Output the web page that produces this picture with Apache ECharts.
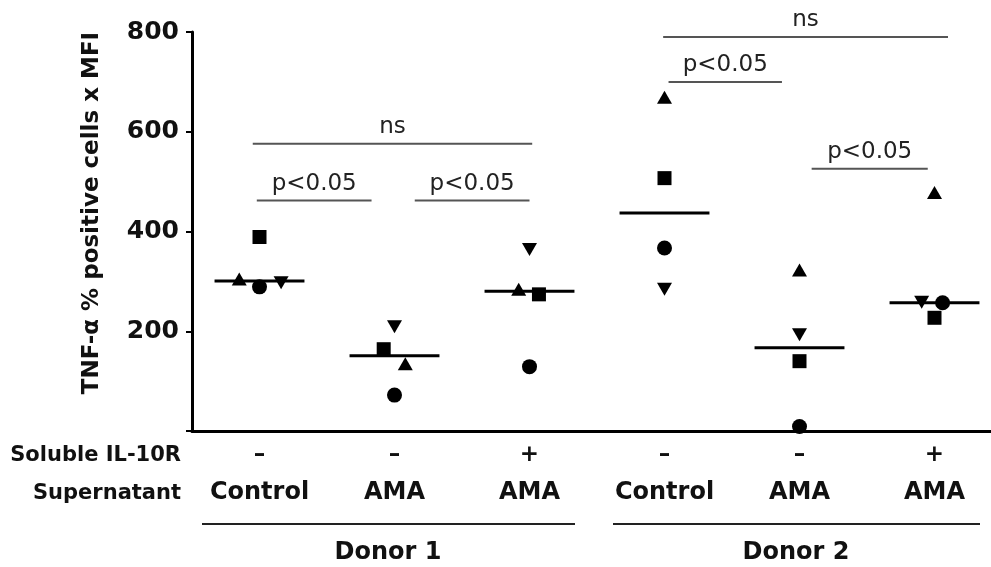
<!DOCTYPE html>
<html>
<head>
<meta charset="utf-8">
<script src="https://cdn.jsdelivr.net/npm/echarts@6/dist/echarts.min.js"></script>
<style>
  html, body { margin: 0; padding: 0; background: #fff; }
  #chart { width: 991px; height: 567px; }
</style>
</head>
<body>
<div id="chart"></div>
<script>
// groups along the x axis
const categories = ['Control', 'AMA', 'AMA', 'Control', 'AMA', 'AMA'];
const il10r = ['–', '–', '+', '–', '–', '+'];

// each symbol is one sample, x = group index (slightly spread as in the figure)
const squareX = [0, 0.92, 2.07, 3, 4, 5];
const squareVals = [389, 164, 274, 507, 140, 227];
const triangleX = [-0.15, 1.08, 1.92, 3, 4, 5];
const triangleVals = [305, 135, 284, 669, 323, 478];
const circleX = [0, 1, 2, 3, 4, 5.06];
const circleVals = [289, 72, 129, 367, 9, 257];
const invTriX = [0.16, 1, 2, 3, 4, 4.905];
const invTriVals = [297, 209, 364, 284, 193, 258];
// horizontal mean line per group
const meanVals = [301, 151, 280, 437, 167, 257];

// significance bars
const bracketFrom = [-0.02, 1.15, -0.05, 3.03, 4.09, 2.99];
const bracketTo = [0.83, 2.0, 2.02, 3.87, 4.95, 5.1];
const bracketLevel = [462, 462, 576, 700, 526, 790];
const bracketLabels = ['p<0.05', 'p<0.05', 'ns', 'p<0.05', 'p<0.05', 'ns'];

const FONT = 'DejaVu Sans';
const chart = echarts.init(document.getElementById('chart'));

const pointSeries = (name, xs, vals, symbol, size, rotate) => ({
    name: name,
    type: 'scatter',
    xAxisIndex: 1,
    symbol: symbol,
    symbolSize: size,
    symbolRotate: rotate || 0,
    itemStyle: { color: '#000', opacity: 1 },
    data: xs.map((x, i) => [x, vals[i]]),
    z: 5
});

const option = {
    animation: false,
    grid: { left: 192, right: -11, top: 32, bottom: 136, outerBoundsMode: 'none' },
    xAxis: [
        {
            type: 'category',
            data: categories,
            boundaryGap: true,
            axisLine: { onZero: false, lineStyle: { color: '#000', width: 3 } },
            axisTick: { alignWithLabel: true, length: 6, lineStyle: { color: '#000', width: 2 } },
            axisLabel: {
                interval: 0,
                margin: 5,
                color: '#111',
                formatter: (value, index) => '{s|' + il10r[index] + '}\n{n|' + value + '}',
                rich: {
                    s: { fontFamily: FONT, fontWeight: 'bold', fontSize: 23, lineHeight: 38 },
                    n: { fontFamily: FONT, fontWeight: 'bold', fontSize: 24, lineHeight: 38 }
                }
            }
        },
        { type: 'value', min: -0.5, max: 5.5, show: false }
    ],
    yAxis: {
        type: 'value',
        min: 0,
        max: 800,
        interval: 200,
        splitLine: { show: false },
        axisLine: { show: true, onZero: false, lineStyle: { color: '#000', width: 3 } },
        axisTick: { show: true, length: 6, lineStyle: { color: '#000', width: 2 } },
        axisLabel: {
            margin: 13,
            color: '#111',
            fontFamily: FONT,
            fontWeight: 'bold',
            fontSize: 25,
            formatter: v => (v === 0 ? '' : String(v))
        }
    },
    graphic: [
        {
            type: 'text', x: 92, y: 213, rotation: Math.PI / 2,
            style: {
                text: 'TNF-α % positive cells x MFI', fill: '#111',
                font: 'bold 23px ' + FONT, align: 'center', verticalAlign: 'middle'
            }
        },
        {
            type: 'text', x: 181, y: 456,
            style: { text: 'Soluble IL-10R', fill: '#111', font: 'bold 21px ' + FONT, align: 'right', verticalAlign: 'middle' }
        },
        {
            type: 'text', x: 181, y: 494,
            style: { text: 'Supernatant', fill: '#111', font: 'bold 21px ' + FONT, align: 'right', verticalAlign: 'middle' }
        },
        { type: 'line', shape: { x1: 202, y1: 524, x2: 575, y2: 524 }, style: { stroke: '#222', lineWidth: 2 } },
        { type: 'line', shape: { x1: 613, y1: 524, x2: 980, y2: 524 }, style: { stroke: '#222', lineWidth: 2 } },
        {
            type: 'text', x: 388, y: 553,
            style: { text: 'Donor 1', fill: '#111', font: 'bold 24px ' + FONT, align: 'center', verticalAlign: 'middle' }
        },
        {
            type: 'text', x: 796, y: 553,
            style: { text: 'Donor 2', fill: '#111', font: 'bold 24px ' + FONT, align: 'center', verticalAlign: 'middle' }
        }
    ],
    series: [
        pointSeries('square', squareX, squareVals, 'rect', 14),
        pointSeries('triangle', triangleX, triangleVals, 'triangle', [15, 13]),
        pointSeries('circle', circleX, circleVals, 'circle', 15),
        pointSeries('inverted triangle', invTriX, invTriVals, 'triangle', [15, 13], 180),
        {
            name: 'mean',
            type: 'custom',
            xAxisIndex: 1,
            data: meanVals.map((m, i) => [i, m]),
            renderItem: (params, api) => {
                const a = api.coord([api.value(0) - 0.333, api.value(1)]);
                const b = api.coord([api.value(0) + 0.333, api.value(1)]);
                return {
                    type: 'line',
                    shape: { x1: a[0], y1: a[1], x2: b[0], y2: b[1] },
                    style: { stroke: '#000', lineWidth: 3 }
                };
            },
            z: 4
        },
        {
            name: 'significance',
            type: 'custom',
            xAxisIndex: 1,
            clip: false,
            data: bracketFrom.map((f, k) => [f, bracketTo[k], bracketLevel[k]]),
            renderItem: (params, api) => {
                const a = api.coord([api.value(0), api.value(2)]);
                const b = api.coord([api.value(1), api.value(2)]);
                return {
                    type: 'group',
                    children: [
                        {
                            type: 'line',
                            shape: { x1: a[0], y1: a[1], x2: b[0], y2: b[1] },
                            style: { stroke: '#555', lineWidth: 2 }
                        },
                        {
                            type: 'text',
                            style: {
                                text: bracketLabels[params.dataIndex],
                                x: (a[0] + b[0]) / 2, y: a[1] - 17,
                                align: 'center', verticalAlign: 'middle',
                                textAlign: 'center', textVerticalAlign: 'middle',
                                font: '23px ' + FONT, fill: '#222'
                            }
                        }
                    ]
                };
            }
        }
    ]
};

chart.setOption(option);
</script>
</body>
</html>
